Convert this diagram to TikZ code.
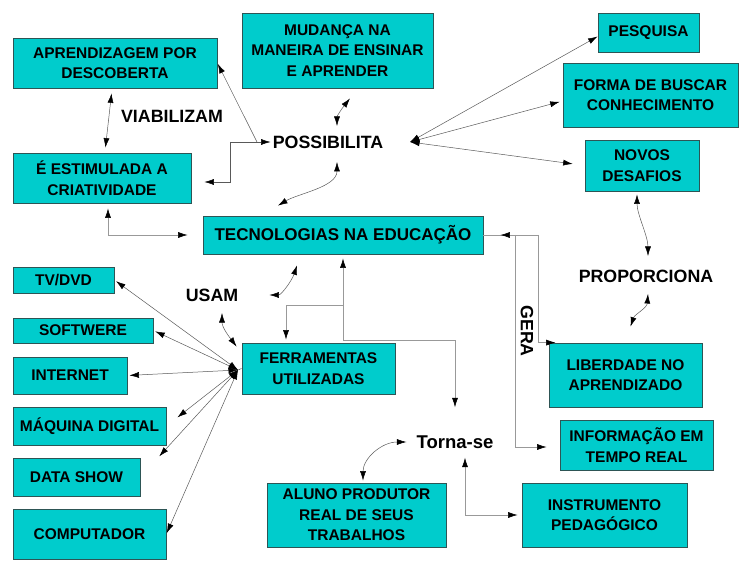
\documentclass[tikz,border=0pt]{standalone}
\usepackage{fontspec}
\setmainfont{Liberation Sans}
\usetikzlibrary{arrows.meta,positioning,calc}
\definecolor{ciano}{RGB}{0,204,204}
\definecolor{borda}{RGB}{45,85,85}

\begin{document}
\begin{tikzpicture}[x=1pt,y=-1pt,
  caixa/.style={draw=borda,line width=0.8pt,fill=ciano,align=center,inner sep=2pt,
    font=\bfseries\fontsize{15.5}{20.5}\selectfont},
  rotulo/.style={inner sep=2pt,font=\bfseries\fontsize{17.8}{20}\selectfont},
  liga/.style={draw=black!65,line width=0.5pt},
  cotovelo/.style={draw=black!40,line width=0.6pt},
  >={Latex[length=9.5pt,width=6pt,color=black]}]
\useasboundingbox (0,0) rectangle (748,572);
\node[caixa,minimum width=204pt,minimum height=50pt] (aprend) at (115,63) {APRENDIZAGEM POR\\DESCOBERTA};
\node[caixa,minimum width=191pt,minimum height=75pt] (mudanca) at (337.5,50.5) {MUDANÇA NA\\MANEIRA DE ENSINAR\\E APRENDER};
\node[caixa,minimum width=178pt,minimum height=50pt] (estim) at (102,178) {É ESTIMULADA A\\CRIATIVIDADE};
\node[caixa,minimum width=280pt,minimum height=38pt,font=\bfseries\fontsize{17}{20}\selectfont] (tecno) at (343,235) {TECNOLOGIAS NA EDUCAÇÃO};
\node[caixa,minimum width=101pt,minimum height=39pt] (pesq) at (648.5,32.5) {PESQUISA};
\node[caixa,minimum width=175pt,minimum height=64pt] (forma) at (650.5,95) {FORMA DE BUSCAR\\CONHECIMENTO};
\node[caixa,minimum width=114pt,minimum height=51pt] (novos) at (642,165.5) {NOVOS\\DESAFIOS};
\node[caixa,minimum width=153pt,minimum height=51pt] (ferr) at (318.5,368.5) {FERRAMENTAS\\UTILIZADAS};
\node[caixa,minimum width=153pt,minimum height=64pt] (liberd) at (625.5,375) {LIBERDADE NO\\APRENDIZADO};
\node[caixa,minimum width=153pt,minimum height=50pt] (infor) at (636.5,445) {INFORMAÇÃO EM\\TEMPO REAL};
\node[caixa,minimum width=179pt,minimum height=64pt] (aluno) at (356.5,515) {ALUNO PRODUTOR\\REAL DE SEUS\\TRABALHOS};
\node[caixa,minimum width=165pt,minimum height=64pt] (instr) at (604.5,515) {INSTRUMENTO\\PEDAGÓGICO};
\foreach \nome/\cx/\cy/\lx/\ly/\texto in {tv/63.5/280/101/26/{TV/DVD},soft/83/330.5/140/25/SOFTWERE,
  inter/70/375.5/114/37/INTERNET,maq/89.5/426/153/38/MÁQUINA DIGITAL,
  data/76.5/477/127/38/DATA SHOW,comp/89.5/534/153/50/COMPUTADOR}
  \node[caixa,minimum width=\lx pt,minimum height=\ly pt] (\nome) at (\cx,\cy) {\texto};
\node[rotulo] (viab) at (172,116) {VIABILIZAM};
\node[rotulo] (possib) at (328,142) {POSSIBILITA};
\node[rotulo] (usam) at (212,295) {USAM};
\node[rotulo] (propor) at (646,276) {PROPORCIONA};
\node[rotulo,rotate=-90] (gera) at (527,331) {GERA};
\node[rotulo,font=\bfseries\fontsize{18.5}{20}\selectfont] (torna) at (455,442) {Torna-se};
\coordinate (possE) at (230,142);
\coordinate (possD) at (257,142);
\coordinate (possR) at (410,142);
\coordinate (ferrH) at (238,370);
\coordinate (tecB) at (343,305);
\coordinate (gera1) at (515,235);
\coordinate (gera2) at (538,235);
\draw[liga,<->,shorten <=5pt,shorten >=5pt] (aprend) -- (estim);
\draw[liga,->] (possE) -- (possib.west);
\draw[liga,->,shorten >=1pt] (possD) -- (aprend.east);
\draw[liga,->,shorten >=13pt] (possE) |- ([yshift=-4pt]estim.east);
\draw[liga,<->] ([xshift=12.5pt,yshift=-10pt]mudanca.south) .. controls +(-8,10) and +(0,-10) .. ([xshift=9pt,yshift=7.5pt]possib.north);
\draw[liga,<->] ([xshift=9pt,yshift=-11.5pt]possib.south) .. controls +(0,25) and +(20,-12) .. ([xshift=-65pt,yshift=10pt]tecno.north);
\draw[cotovelo,<->,shorten <=5pt,shorten >=15pt] ([xshift=6pt]estim.south) |- (tecno.west);
\draw[liga,<->] (possR) -- ([yshift=-4pt]pesq.west);
\draw[liga,<->,shorten >=3pt] (possR) -- ([yshift=-6pt]forma.west);
\draw[liga,<->,shorten >=12pt] (possR) -- (novos.west);
\draw[liga,<->] ([xshift=-5pt,yshift=-3pt]novos.south) .. controls +(0,20) and +(0,-20) .. ([xshift=2pt,yshift=11.5pt]propor.north);
\draw[liga,<->] ([xshift=2pt,yshift=-9.5pt]propor.south) .. controls +(-1,14) and +(4,-12) .. ([xshift=5pt,yshift=16pt]liberd.north);
\draw[cotovelo] (tecno.east) -- (gera2);
\draw[cotovelo,->] (gera1) -- ([xshift=17pt]tecno.east);
\draw[cotovelo,->] (gera2) |- ([xshift=7pt]liberd.north west);
\draw[cotovelo,->,shorten >=13pt] (gera1) |- ([yshift=-2pt]infor.west);
\draw[cotovelo,->,shorten >=4pt] (tecB) -- (tecno.south);
\draw[cotovelo,->,shorten >=3pt] (tecB) -| ([xshift=-32.5pt]ferr.north);
\draw[cotovelo,->,shorten >=26pt] (tecB) -- ++(0,35) -| (torna.north);
\draw[liga,<->] ([xshift=-46pt,yshift=-11pt]tecno.south) .. controls +(-5,15) and +(12,0) .. ([xshift=29pt]usam.east);
\draw[liga,<->] ([xshift=10pt,yshift=-9.5pt]usam.south) .. controls +(0,15) and +(-6,-8) .. ([xshift=-5pt,yshift=-4pt]ferr.north west);
\foreach \f/\enc in {tv/2,soft/2,inter/2,maq/14,data/28,comp/1}
  \draw[liga,<->,shorten >=\enc pt] (ferrH) -- (\f.east);
\draw[liga] (ferrH) -- (ferr.west);
\draw[liga,<->] ([xshift=-8pt]torna.west) .. controls +(-25,0) and +(0,-22) .. ([xshift=6.5pt,yshift=2pt]aluno.north);
\draw[cotovelo,<->,shorten <=7pt,shorten >=4pt] ([xshift=10pt]torna.south) |- (instr.west);
\end{tikzpicture}
\end{document}
